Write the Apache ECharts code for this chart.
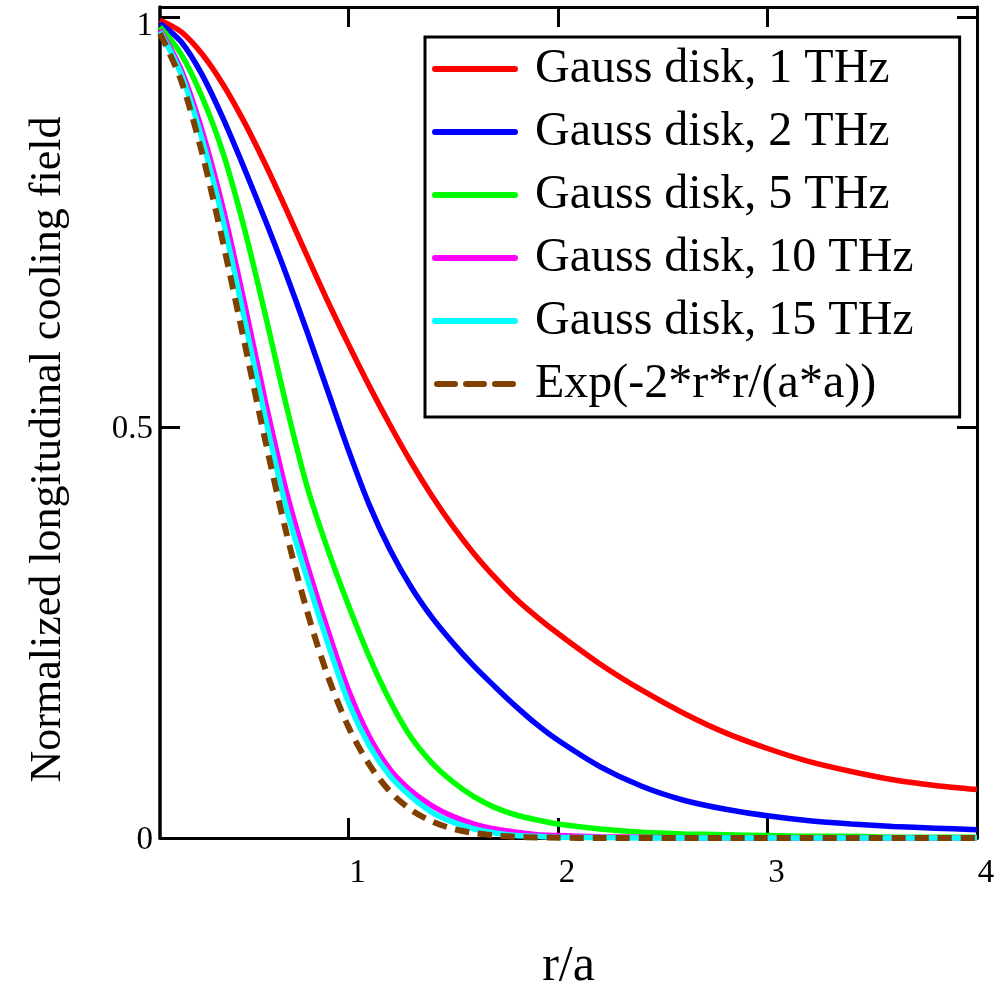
<!DOCTYPE html>
<html>
<head>
<meta charset="utf-8">
<script src="https://cdn.jsdelivr.net/npm/echarts@6/dist/echarts.min.js"></script>
<style>
html,body{margin:0;padding:0;background:#ffffff;}
#chart{width:996px;height:984px;}
</style>
</head>
<body>
<div id="chart"></div>
<script>
// ---- data ----
const rOverA = [0.1,0.2,0.3,0.4,0.5,0.6,0.7,0.8,0.9,1.0,1.1,1.2,1.3,1.4,1.5,1.6,1.7,1.8,1.9,2.0,2.2,2.4,2.6,2.8,3.0,3.2,3.4,3.6,3.8,4.0];
const seriesNames = ['Gauss disk, 1 THz','Gauss disk, 2 THz','Gauss disk, 5 THz','Gauss disk, 10 THz','Gauss disk, 15 THz','Exp(-2*r*r/(a*a))'];
const gauss1THz  = [0.996,0.982,0.955,0.918,0.873,0.822,0.767,0.710,0.654,0.601,0.550,0.502,0.457,0.416,0.379,0.346,0.317,0.291,0.269,0.249,0.212,0.180,0.152,0.128,0.109,0.093,0.081,0.071,0.064,0.059];
const gauss2THz  = [0.992,0.970,0.930,0.877,0.817,0.754,0.688,0.618,0.545,0.472,0.405,0.350,0.305,0.268,0.237,0.209,0.184,0.160,0.138,0.119,0.087,0.063,0.046,0.035,0.027,0.021,0.017,0.014,0.012,0.010];
const gauss5THz  = [0.988,0.955,0.903,0.835,0.745,0.640,0.530,0.430,0.352,0.283,0.220,0.166,0.122,0.091,0.068,0.050,0.037,0.028,0.022,0.017,0.011,0.007,0.005,0.004,0.003,0.002,0.002,0.001,0.001,0.001];
const gauss10THz = [0.984,0.936,0.862,0.768,0.655,0.535,0.425,0.335,0.254,0.180,0.123,0.083,0.057,0.039,0.026,0.017,0.011,0.007,0.004,0.003,0.0015,0.001,0,0,0,0,0,0,0,0];
const gauss15THz = [0.982,0.931,0.852,0.753,0.636,0.515,0.405,0.318,0.238,0.165,0.112,0.075,0.050,0.031,0.019,0.011,0.006,0.003,0.002,0.001,0.0005,0,0,0,0,0,0,0,0,0];
const expRef     = [0.980,0.923,0.835,0.726,0.607,0.487,0.375,0.278,0.198,0.135,0.089,0.056,0.034,0.020,0.011,0.006,0.003,0.0015,0.0007,0.0003,0,0,0,0,0,0,0,0,0,0];
const xTickValues = [1,2,3,4];
const yTickValues = [0,0.5,1];
const xAxisTitle = 'r/a';
const yAxisTitle = 'Normalized longitudinal cooling field';

// ---- styles ----
const FONT = '"Liberation Serif","Times New Roman",serif';
const colors = ['#ff0000','#0000ff','#00ff00','#ff00ff','#00ffff','#804000'];
const values = [gauss1THz,gauss2THz,gauss5THz,gauss10THz,gauss15THz,expRef];
const solidIcon = 'path://M3,0H83A3,3,0,0,1,83,6H3A3,3,0,0,1,3,0Z';
const dashIcon = 'path://M3,0H21A3,3,0,0,1,21,6H3A3,3,0,0,1,3,0Z M32,0H50A3,3,0,0,1,50,6H32A3,3,0,0,1,32,0Z M61,0H79A3,3,0,0,1,79,6H61A3,3,0,0,1,61,0Z';

const series = seriesNames.map((name,i)=>({
  name: name,
  type: 'line',
  xAxisIndex: 0,
  yAxisIndex: 0,
  data: rOverA.map((x,k)=>[x, values[i][k]]),
  showSymbol: false,
  symbol: 'none',
  smooth: 0.3,
  clip: false,
  lineStyle: i === 5
    ? {color: colors[i], width: 6, type: [14, 9]}
    : {color: colors[i], width: 5.5},
  itemStyle: {color: colors[i]},
  z: 2 + i
}));

const chart = echarts.init(document.getElementById('chart'), null, {renderer:'canvas'});
chart.setOption({
  animation: false,
  backgroundColor: '#ffffff',
  grid: {left: 160, right: 19, top: 7, bottom: 146, containLabel: false, outerBoundsMode: 'none'},
  legend: {
    orient: 'vertical',
    left: 425, top: 37,
    data: seriesNames.map((n,i)=>({name: n, icon: i < 5 ? solidIcon : dashIcon})),
    selectedMode: false,
    backgroundColor: '#ffffff',
    borderColor: '#000000',
    borderWidth: 3,
    padding: [8, 46, 9, 7],
    itemWidth: 86,
    itemHeight: 6,
    itemGap: 15,
    textStyle: {fontFamily: FONT, fontSize: 48, color: '#000000', lineHeight: 46, padding: [0,0,0,12]}
  },
  xAxis: [{
    type: 'value', position: 'bottom', min: 0.1, max: 4,
    axisLine: {show: true, onZero: false, lineStyle: {color: '#000', width: 3}},
    axisTick: {show: true, inside: true, length: 20, lineStyle: {color:'#000', width: 3}, customValues: xTickValues},
    axisLabel: {show: true, customValues: xTickValues, fontFamily: FONT, fontSize: 33, color: '#000', margin: 19, padding: [0,0,0,18]},
    splitLine: {show: false},
    name: xAxisTitle, nameLocation: 'middle', nameGap: 104,
    nameTextStyle: {fontFamily: FONT, fontSize: 50, color: '#000'}
  },{
    type: 'value', position: 'top', min: 0.1, max: 4,
    axisLine: {show: true, onZero: false, lineStyle: {color: '#000', width: 3}},
    axisTick: {show: true, inside: true, length: 20, lineStyle: {color:'#000', width: 3}, customValues: xTickValues},
    axisLabel: {show: false},
    splitLine: {show: false}
  }],
  yAxis: [{
    type: 'value', position: 'left', min: 0, max: 1.012,
    axisLine: {show: true, onZero: false, lineStyle: {color: '#000', width: 3.5}},
    axisTick: {show: true, inside: true, length: 20, lineStyle: {color:'#000', width: 3}, customValues: yTickValues},
    axisLabel: {
      show: true, customValues: yTickValues, fontFamily: FONT, fontSize: 33, color: '#000', margin: 7,
      formatter: v => v === 1 ? '{lo|1}' : '{n|' + v + '}',
      rich: {
        lo: {fontFamily: FONT, fontSize: 33, color: '#000', padding: [18,0,0,0]},
        n: {fontFamily: FONT, fontSize: 33, color: '#000', padding: [4,0,0,0]}
      }
    },
    splitLine: {show: false},
    name: yAxisTitle, nameLocation: 'middle', nameRotate: 90, nameGap: 90,
    nameTextStyle: {fontFamily: FONT, fontSize: 44, color: '#000', padding: [0,54,0,0]}
  },{
    type: 'value', position: 'right', min: 0, max: 1.012,
    axisLine: {show: true, onZero: false, lineStyle: {color: '#000', width: 3}},
    axisTick: {show: true, inside: true, length: 20, lineStyle: {color:'#000', width: 3}, customValues: yTickValues},
    axisLabel: {show: false},
    splitLine: {show: false}
  }],
  series: series
});
</script>
</body>
</html>
